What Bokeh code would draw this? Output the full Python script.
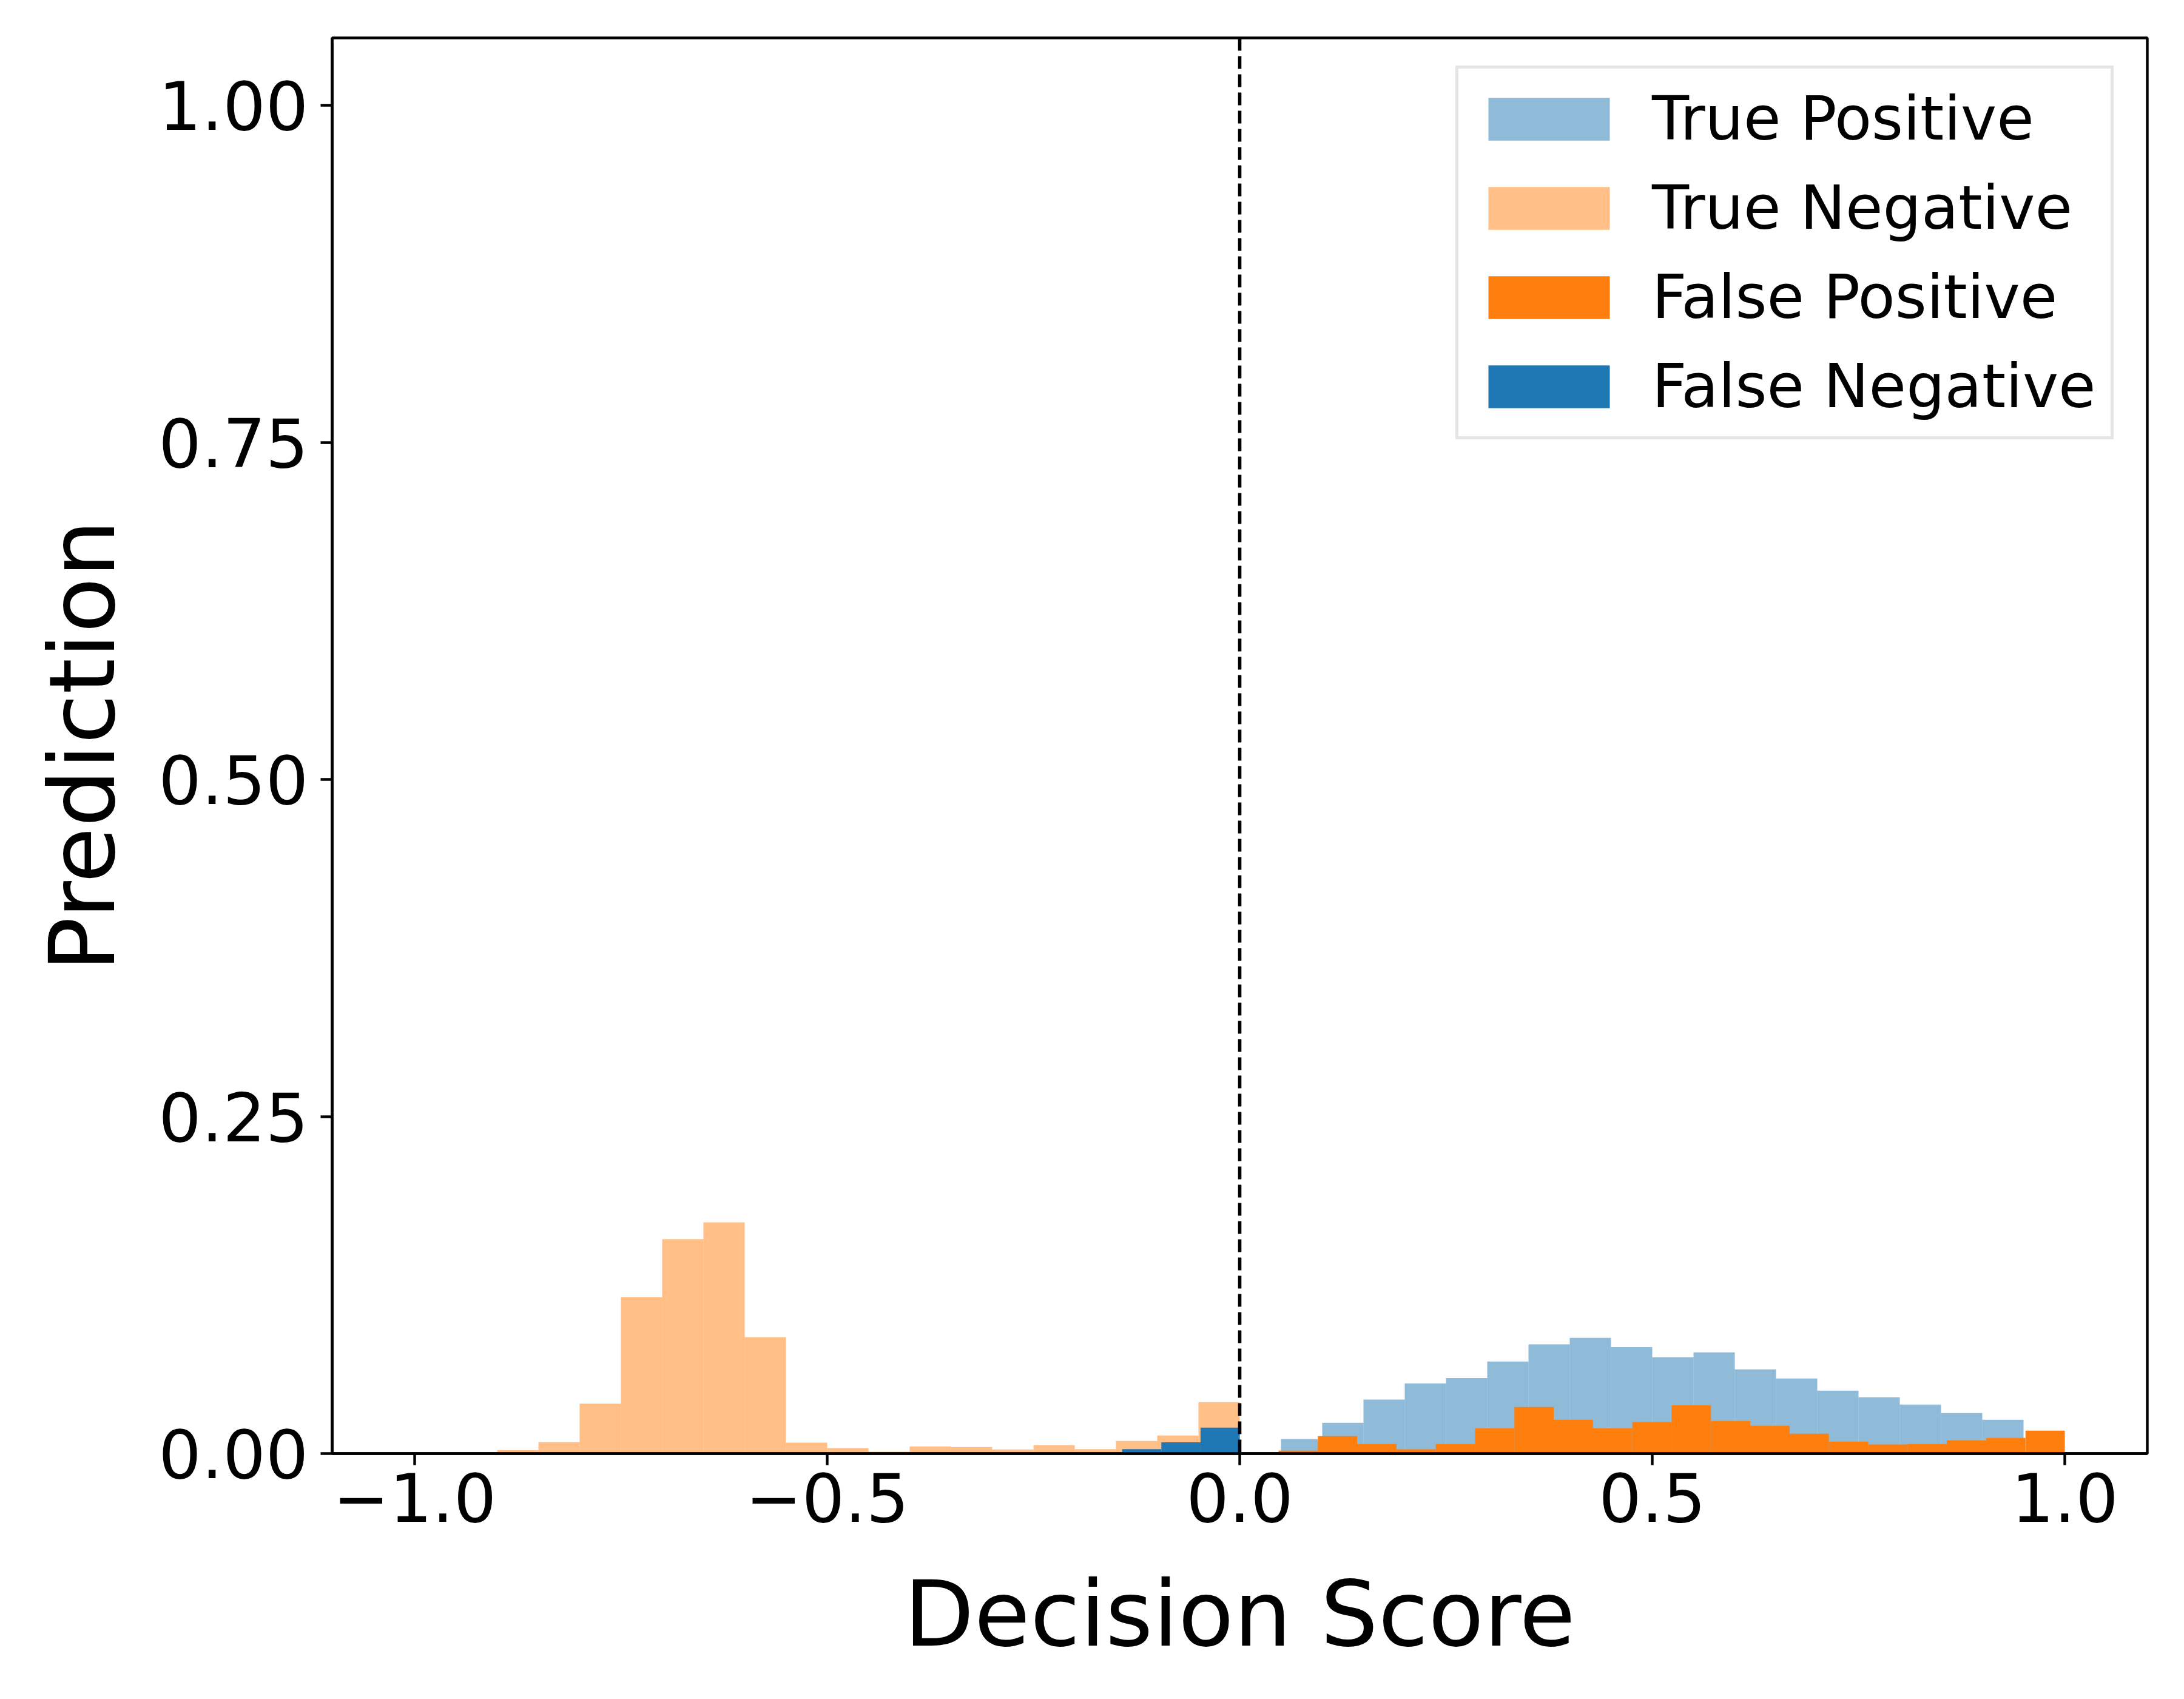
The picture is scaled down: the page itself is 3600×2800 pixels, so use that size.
from bokeh.plotting import figure
from bokeh.models import Span, FixedTicker, Range1d
from bokeh.embed import file_html
from bokeh.resources import INLINE

# ---- data ----
tp_start, tp_width = 0.05, 0.05
tp_values = [0.0107, 0.0228, 0.040, 0.052, 0.056, 0.0683, 0.081, 0.0858, 0.079,
             0.0714, 0.075, 0.0624, 0.0557, 0.0467, 0.0417, 0.0363, 0.030, 0.0251]

tn_start, tn_width = -0.9, 0.05
tn_values = [0.0026, 0.0084, 0.037, 0.116, 0.159, 0.1715, 0.0863, 0.0081, 0.004,
             0.0013, 0.0053, 0.0048, 0.003, 0.0062, 0.0033, 0.0093, 0.0134, 0.0381]

fp_start, fp_end = 0.047, 1.0
fp_values = [0.0021, 0.0129, 0.0071, 0.0032, 0.0071, 0.0188, 0.0345, 0.0251, 0.0188,
             0.0233, 0.0359, 0.0242, 0.0206, 0.0147, 0.0089, 0.0068, 0.0071, 0.0098,
             0.0116, 0.017]

fn_start, fn_end = -0.19, 0.0
fn_values = [0.001, 0.0033, 0.0083, 0.0192]

series_labels = ["True Positive", "True Negative", "False Positive", "False Negative"]
x_ticks = [-1.0, -0.5, 0.0, 0.5, 1.0]
x_tick_labels = ["\u22121.0", "\u22120.5", "0.0", "0.5", "1.0"]
y_ticks = [0.0, 0.25, 0.5, 0.75, 1.0]
y_tick_labels = ["0.00", "0.25", "0.50", "0.75", "1.00"]
x_label = "Decision Score"
y_label = "Prediction"


def edges_fixed(start, width, n):
    return [start + i * width for i in range(n + 1)]


def edges_span(start, end, n):
    return [start + (end - start) * i / n for i in range(n + 1)]


tp_edges = edges_fixed(tp_start, tp_width, len(tp_values))
tn_edges = edges_fixed(tn_start, tn_width, len(tn_values))
fp_edges = edges_span(fp_start, fp_end, len(fp_values))
fn_edges = edges_span(fn_start, fn_end, len(fn_values))

FONT = "DejaVu Sans"
BLUE = "#1f77b4"
ORANGE = "#ff7f0e"

p = figure(width=3584, height=2784, output_backend="svg", toolbar_location=None,
           x_range=Range1d(-1.1, 1.1), y_range=Range1d(0, 1.05),
           min_border_left=547, min_border_right=45, min_border_top=62,
           min_border_bottom=389)
p.background_fill_color = "white"
p.border_fill_color = "white"
p.grid.visible = False
p.outline_line_color = "black"
p.outline_line_width = 4.4
p.outline_line_alpha = 1.0

series = [
    (tp_edges, tp_values, BLUE, 0.5, series_labels[0]),
    (tn_edges, tn_values, ORANGE, 0.5, series_labels[1]),
    (fp_edges, fp_values, ORANGE, 1.0, series_labels[2]),
    (fn_edges, fn_values, BLUE, 1.0, series_labels[3]),
]
for edges, vals, color, alpha, lab in series:
    p.quad(left=edges[:-1], right=edges[1:], bottom=[0] * len(vals), top=vals,
           fill_color=color, fill_alpha=alpha, line_color=None, legend_label=lab)

p.add_layout(Span(location=0, dimension="height", line_color="black",
                  line_width=5.6, line_dash="21 9"))

for ax, ticks, labels in ((p.xaxis[0], x_ticks, x_tick_labels),
                          (p.yaxis[0], y_ticks, y_tick_labels)):
    ax.ticker = FixedTicker(ticks=ticks)
    ax.major_label_overrides = {float(t): l for t, l in zip(ticks, labels)}
    ax.minor_tick_line_color = None
    ax.major_tick_in = 0
    ax.major_tick_out = 19
    ax.major_tick_line_width = 4.4
    ax.major_tick_line_color = "black"
    ax.axis_line_width = 4.4
    ax.axis_line_color = "black"
    ax.major_label_text_font = FONT
    ax.major_label_text_font_size = "111px"
    ax.major_label_text_color = "black"
    ax.axis_label_text_font = FONT
    ax.axis_label_text_font_size = "150px"
    ax.axis_label_text_font_style = "normal"
    ax.axis_label_text_color = "black"

p.xaxis[0].axis_label = x_label
p.yaxis[0].axis_label = y_label
p.xaxis[0].major_label_standoff = 12
p.xaxis[0].axis_label_standoff = 62
p.yaxis[0].major_label_standoff = 20
p.yaxis[0].axis_label_standoff = 35

lg = p.legend[0]
lg.location = (1852, 1671)
lg.margin = 0
lg.padding = 24
lg.spacing = 30
lg.glyph_width = 250
lg.glyph_height = 88
lg.label_standoff = 45
lg.label_text_font = FONT
lg.label_text_font_size = "100px"
lg.label_text_color = "black"
lg.border_line_color = "#cccccc"
lg.border_line_width = 5
lg.background_fill_alpha = 0.8

open("out.html", "w").write(file_html(p, INLINE))
